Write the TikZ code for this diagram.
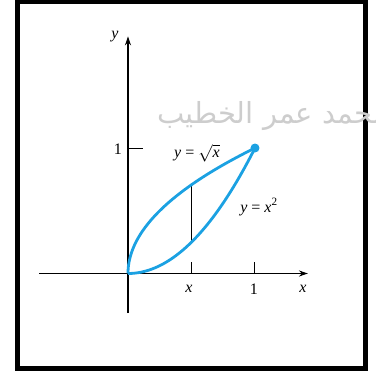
\documentclass[tikz,border=0pt]{standalone}
\usepackage{fontspec}
\setmainfont{Liberation Serif}
\newfontfamily\arabicfont[Script=Arabic]{DejaVu Sans}
\TeXXeTstate=1
\usetikzlibrary{arrows.meta}

\definecolor{curveblue}{RGB}{27,161,226}
\definecolor{markgray}{RGB}{205,205,205}

\begin{document}
\begin{tikzpicture}[
  x=127pt, y=125.5pt,
  axis/.style={draw, line width=1.1pt, -{Stealth[length=9pt,width=6pt]}},
  tickline/.style={draw, line width=1pt},
  curve/.style={draw=curveblue, line width=2.8pt},
  lbl/.style={font=\fontsize{16}{18}\selectfont, inner sep=0pt},
  wmark/.style={font=\arabicfont\fontsize{29}{31}\selectfont, text=markgray, inner sep=0pt}
]
\useasboundingbox (-128pt,-99.5pt) rectangle (248pt,273.5pt);
\draw[line width=5pt] (-110.5pt,-95pt) rectangle (237.5pt,272pt);

% axes
\coordinate (o) at (0,0);
\coordinate (xl) at (-0.70,0);
\coordinate (xr) at (1.417,0);
\coordinate (yb) at (0,-0.315);
\coordinate (yt) at (0,1.89);
\draw[axis] (xl) -- (xr);
\draw[axis] (yb) -- (yt);

% ticks
\coordinate (tx) at (0.5,0);
\coordinate (tone) at (1,0);
\coordinate (yone) at (0,1);
\draw[tickline] (tx) -- ++(0,12pt);
\draw[tickline] (tone) -- ++(0,12pt);
\draw[tickline] (yone) -- ++(15pt,0);

% strip
\coordinate (top) at (0.5,{sqrt(0.5)});
\coordinate (bot) at (0.5,0.25);
\draw[line width=0.9pt] (bot) -- (top);

% curves
\draw[curve] plot[domain=0:1, samples=80, smooth] ({\x*\x},\x);
\draw[curve] plot[domain=0:1, samples=60, smooth] (\x,{\x*\x});
\fill[curveblue] (1,1) circle (4.5pt);

% labels
\node[lbl] (ylab) at (-13pt,236.5pt) {\textit{y}};
\node[lbl] (yonelab) at (-10pt,124.5pt) {1};
\node[lbl] (xticklab) at (61pt,-15.5pt) {\textit{x}};
\node[lbl] (onelab) at (126pt,-15.5pt) {1};
\node[lbl] (xlab) at (175pt,-15.5pt) {\textit{x}};
\node[lbl] (sqrtlab) at (69pt,120.5pt) {\textit{y} = $\sqrt{\mbox{\textit{x}}}$};
\node[lbl] (sqlab) at (131pt,66.5pt) {\textit{y} = \textit{x}\textsuperscript{2}};

% watermark
\begin{scope}
\clip (-128pt,-99.5pt) rectangle (248pt,273.5pt);
\node[wmark, anchor=west] (wm) at (29pt,157pt) {\beginR محمد عمر الخطيب\endR};
\end{scope}
\end{tikzpicture}
\end{document}
